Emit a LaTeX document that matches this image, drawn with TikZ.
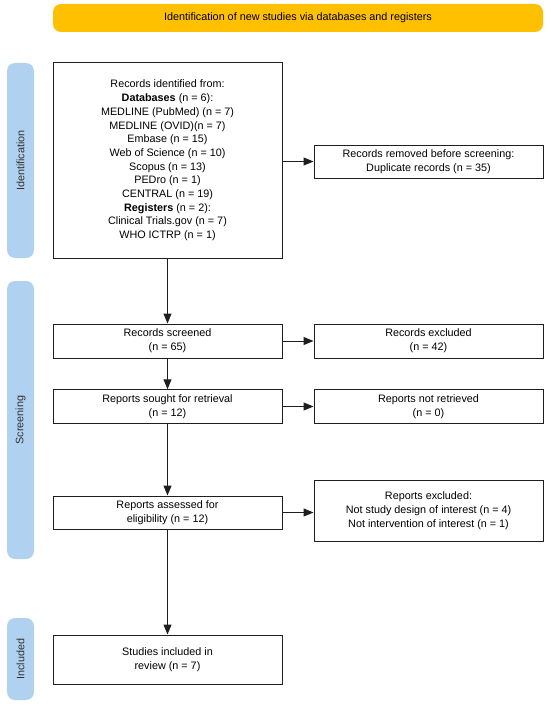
\documentclass[tikz,border=0pt]{standalone}
\usepackage{fontspec}
\setmainfont{Liberation Sans}
\usetikzlibrary{arrows.meta,calc}
\definecolor{bannergold}{RGB}{255,192,0}
\definecolor{barblue}{RGB}{176,210,240}
\definecolor{linegray}{RGB}{30,30,30}
\definecolor{labelgray}{RGB}{50,50,50}
\begin{document}
\begin{tikzpicture}[x=1pt,y=-1pt,
  box/.style={draw=linegray,line width=1pt,rectangle,fill=white,
    minimum width=229pt,inner sep=0pt,align=center,
    font=\fontsize{10.8}{13.7}\selectfont},
  banner/.style={fill=bannergold,rounded corners=8pt,rectangle,
    minimum width=490pt,minimum height=28pt,inner sep=0pt,
    font=\fontsize{10.8}{12}\selectfont},
  phasebar/.style={fill=barblue,rounded corners=8pt,rectangle,
    minimum width=27pt,inner sep=0pt},
  phaselabel/.style={rotate=90,text=labelgray,font=\fontsize{10.8}{12}\selectfont},
  arrow/.style={draw=linegray,line width=1pt,-{Triangle[length=10pt,width=8pt]}}
]
\useasboundingbox (0,0) rectangle (550,706);

% banner
\node[banner] (banner) at (298,18) {Identification of new studies via databases and registers};

% phase bars
\node[phasebar,minimum height=195pt] (idbar) at (20.5,160.5) {};
\node[phaselabel] (idlabel) at (idbar.center) {Identification};
\node[phasebar,minimum height=278pt] (scbar) at (20.5,420) {};
\node[phaselabel] (sclabel) at (scbar.center) {Screening};
\node[phasebar,minimum height=82pt] (inbar) at (20.5,659) {};
\node[phaselabel] (inlabel) at (inbar.center) {Included};

% boxes
\node[box,minimum height=195pt] (ident) at (167.5,160.5) {Records identified from:\\
\textbf{Databases} (n = 6):\\
MEDLINE (PubMed) (n = 7)\\
MEDLINE (OVID)(n = 7)\\
Embase (n = 15)\\
Web of Science (n = 10)\\
Scopus (n = 13)\\
PEDro (n = 1)\\
CENTRAL (n = 19)\\
\textbf{Registers} (n = 2):\\
Clinical Trials.gov (n = 7)\\
WHO ICTRP (n = 1)};
\node[box,minimum height=33pt] (removed) at (428.5,161.5) {Records removed before screening:\\Duplicate records (n = 35)};

\node[box,minimum height=34pt] (screened) at (167.5,341) {Records screened\\(n = 65)};
\node[box,minimum height=34pt] (excluded) at (428.5,341) {Records excluded\\(n = 42)};

\node[box,minimum height=33.5pt] (sought) at (167.5,406.5) {Reports sought for retrieval\\(n = 12)};
\node[box,minimum height=33.5pt] (notret) at (428.5,406.5) {Reports not retrieved\\(n = 0)};

\node[box,minimum height=33pt] (assessed) at (167.5,512.5) {Reports assessed for\\eligibility (n = 12)};
\node[box,minimum height=61pt] (repexcl) at (428.5,510.5) {Reports excluded:\\Not study design of interest (n = 4)\\Not intervention of interest (n = 1)};

\node[box,minimum height=49pt] (included) at (167.5,659.5) {Studies included in\\review (n = 7)};

% connectors
\draw[arrow] (ident.east |- removed.west) -- (removed.west);
\draw[arrow] (ident.south) -- (screened.north);
\draw[arrow] (screened.east) -- (excluded.west);
\draw[arrow] (screened.south) -- (sought.north);
\draw[arrow] (sought.east) -- (notret.west);
\draw[arrow] (sought.south) -- (assessed.north);
\draw[arrow] (assessed.east) -- (repexcl.west |- assessed.east);
\draw[arrow] (assessed.south) -- (included.north);
\end{tikzpicture}
\end{document}
